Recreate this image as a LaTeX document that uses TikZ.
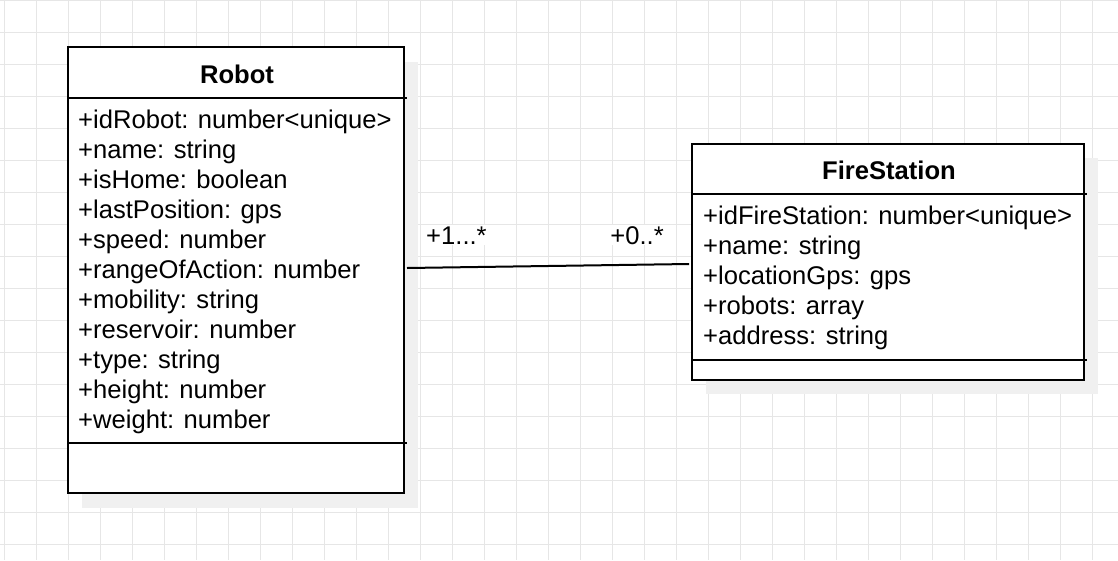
\documentclass[tikz,border=0pt]{standalone}
\usepackage{fontspec}
\setmainfont{Liberation Sans}
\usetikzlibrary{calc}
\definecolor{gridc}{HTML}{E6E6E6}
\definecolor{shadowc}{HTML}{F0F0F0}
\tikzset{
  classbox/.style={draw=black, line width=2pt, fill=white, inner sep=0pt},
  shadowbox/.style={fill=shadowc, draw=none},
  attr/.style={anchor=base west, inner sep=0pt, font=\fontsize{25.6}{30}\selectfont},
  title/.style={anchor=base, inner sep=0pt, font=\fontsize{25.6}{30}\selectfont\bfseries},
  sep/.style={line width=2pt},
  mult/.style={fill=white, inner sep=1pt, font=\fontsize{25.6}{30}\selectfont},
  conn/.style={line width=2pt}
}
\begin{document}
\begin{tikzpicture}[x=1pt,y=-1pt]
\useasboundingbox (0,0) rectangle (1118,560);
\fill[white] (0,0) rectangle (1118,560);
% grid
\foreach \gx in {4,36,...,1116} \draw[gridc, line width=1pt] (\gx,0) -- (\gx,560);
\foreach \gy in {0,32,...,559} \draw[gridc, line width=1pt] (0,\gy) -- (1118,\gy);
% shadows
\fill[shadowbox] (82,62) rectangle (418,508);
\fill[shadowbox] (706,158) rectangle (1098,394);
% Robot class
\node[classbox, minimum width=336pt, minimum height=446pt] (robot) at (236,270) {};
\draw[sep] (robot.west |- 0,98) -- ($(robot.east |- 0,98)+(2,0)$);
\draw[sep] (robot.west |- 0,443) -- ($(robot.east |- 0,443)+(2,0)$);
\node[title] (rtitle) at (237,83) {Robot};
\node[attr] (r1) at (78,128) {+idRobot: number<unique>};
\node[attr] (r2) at (78,158) {+name: string};
\node[attr] (r3) at (78,188) {+isHome: boolean};
\node[attr] (r4) at (78,218) {+lastPosition: gps};
\node[attr] (r5) at (78,248) {+speed: number};
\node[attr] (r6) at (78,278) {+rangeOfAction: number};
\node[attr] (r7) at (78,308) {+mobility: string};
\node[attr] (r8) at (78,338) {+reservoir: number};
\node[attr] (r9) at (78,368) {+type: string};
\node[attr] (r10) at (78,398) {+height: number};
\node[attr] (r11) at (78,428) {+weight: number};
% FireStation class
\node[classbox, minimum width=392pt, minimum height=236pt] (fire) at (888,262) {};
\draw[sep] (fire.west |- 0,194) -- ($(fire.east |- 0,194)+(2,0)$);
\draw[sep] (fire.west |- 0,360) -- ($(fire.east |- 0,360)+(2,0)$);
\node[title] (ftitle) at (889,179) {FireStation};
\node[attr] (f1) at (703,224) {+idFireStation: number<unique>};
\node[attr] (f2) at (703,254) {+name: string};
\node[attr] (f3) at (703,284) {+locationGps: gps};
\node[attr] (f4) at (703,314) {+robots: array};
\node[attr] (f5) at (703,344) {+address: string};
% association
\draw[conn] ($(robot.east)+(2,-2)$) -- ($(fire.west)+(-2,2)$);
\node[mult, anchor=base west] (m1) at (425,244) {+1...*};
\node[mult, anchor=base east] (m2) at (665,244) {+0..*};
\end{tikzpicture}
\end{document}
